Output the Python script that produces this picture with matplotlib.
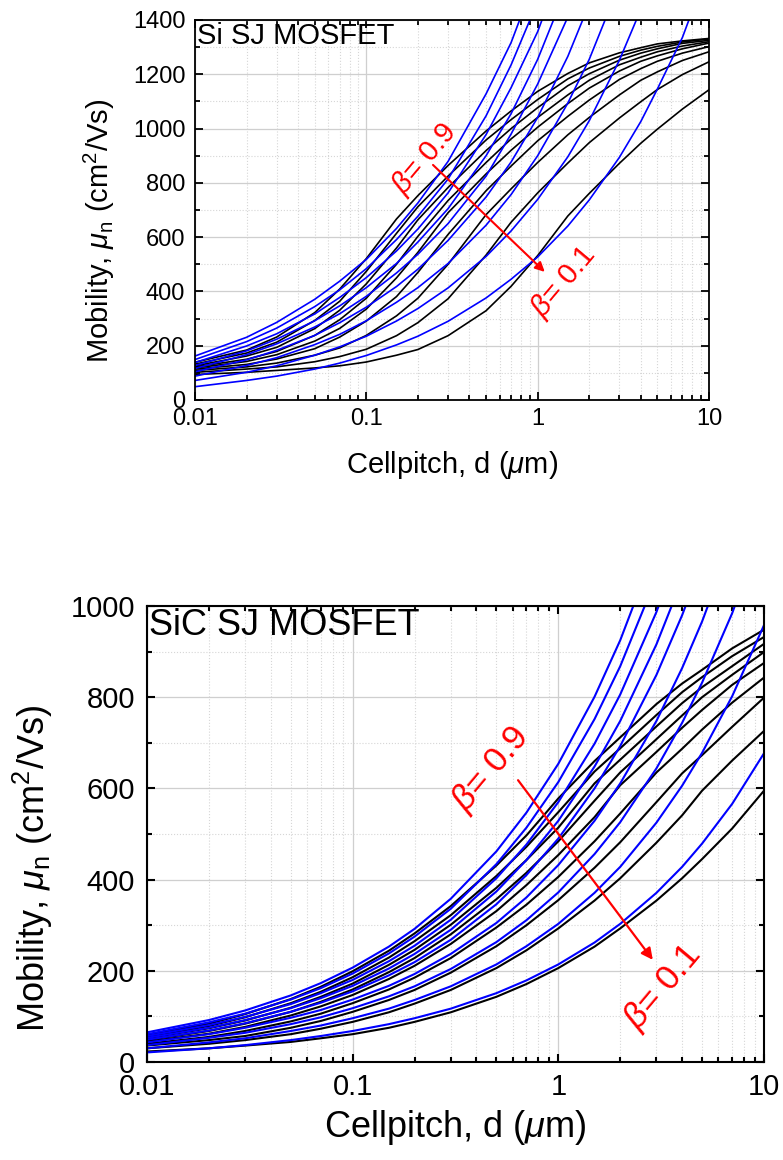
import numpy as np
import matplotlib
matplotlib.use("Agg")
import matplotlib.pyplot as plt
from matplotlib.ticker import MultipleLocator, LogLocator, NullFormatter

plt.rcParams['font.family'] = ['Liberation Sans', 'DejaVu Sans']
plt.rcParams['mathtext.fontset'] = 'custom'
plt.rcParams['mathtext.rm'] = 'Liberation Sans'
plt.rcParams['mathtext.it'] = 'Liberation Sans:italic'

nan = np.nan

# cell pitch samples (um)
d = [0.01, 0.02, 0.03, 0.05, 0.07, 0.1, 0.15, 0.2, 0.3, 0.5, 0.7,
     1, 1.5, 2, 3, 4, 5, 7, 10]
beta = [0.9, 0.8, 0.7, 0.6, 0.5, 0.4, 0.3, 0.2, 0.1]

# Si SJ MOSFET, black curves (one row per beta)
si_black = [
    [139, 184, 232, 322, 409, 521, 667, 753, 864, 991, 1065, 1137, 1203, 1242, 1279, 1298, 1312, 1323, 1332],
    [132, 173, 213, 293, 364, 474, 614, 712, 825, 958, 1033, 1107, 1183, 1223, 1266, 1289, 1303, 1319, 1330],
    [126, 162, 194, 263, 331, 428, 560, 664, 783, 919, 1000, 1077, 1158, 1202, 1252, 1278, 1294, 1314, 1325],
    [122, 150, 179, 238, 296, 375, 500, 603, 735, 875, 962, 1041, 1124, 1178, 1235, 1263, 1283, 1304, 1320],
    [118, 142, 167, 217, 264, 335, 450, 544, 690, 833, 920, 1005, 1092, 1149, 1212, 1248, 1268, 1294, 1315],
    [114, 131, 151, 189, 232, 291, 381, 470, 610, 771, 862, 955, 1045, 1105, 1181, 1221, 1248, 1278, 1302],
    [109, 122, 136, 165, 192, 238, 310, 375, 500, 683, 778, 875, 977, 1041, 1124, 1178, 1209, 1251, 1283],
    [102, 114, 122, 141, 160, 187, 237, 285, 373, 534, 655, 763, 873, 948, 1039, 1099, 1144, 1199, 1246],
    [94, 102, 109, 118, 126, 140, 165, 186, 237, 329, 419, 532, 678, 761, 872, 946, 998, 1072, 1143],
]
# Si SJ MOSFET, blue curves
si_blue = [
    [162, 231, 286, 371, 438, 518, 632, 726, 879, 1128, 1317, 1576, nan, nan, nan, nan, nan, nan, nan],
    [149, 215, 265, 344, 406, 484, 591, 677, 814, 1047, 1235, 1468, nan, nan, nan, nan, nan, nan, nan],
    [138, 199, 244, 317, 378, 451, 549, 630, 763, 978, 1151, 1357, 1657, nan, nan, nan, nan, nan, nan],
    [127, 181, 224, 292, 347, 414, 503, 582, 705, 900, 1055, 1255, 1531, nan, nan, nan, nan, nan, nan],
    [116, 167, 207, 269, 318, 382, 468, 537, 650, 825, 980, 1164, 1411, nan, nan, nan, nan, nan, nan],
    [104, 148, 183, 238, 285, 342, 418, 482, 588, 748, 877, 1041, 1266, 1459, nan, nan, nan, nan, nan],
    [88, 127, 156, 204, 242, 292, 360, 414, 503, 644, 757, 900, 1094, 1255, 1531, nan, nan, nan, nan],
    [72, 102, 126, 165, 196, 235, 291, 337, 413, 529, 623, 739, 896, 1029, 1252, 1439, nan, nan, nan],
    [49, 72, 88, 114, 136, 164, 203, 235, 290, 376, 445, 527, 641, 737, 894, 1026, 1146, 1336, 1600],
]
# SiC SJ MOSFET, black curves
sic_black = [
    [58, 84, 105, 138, 165, 199, 244, 282, 342, 431, 497, 578, 660, 712, 785, 830, 860, 907, 948],
    [55, 79, 98, 129, 154, 186, 229, 265, 322, 408, 472, 548, 637, 688, 761, 811, 844, 890, 932],
    [52, 74, 91, 119, 143, 172, 213, 246, 301, 382, 443, 514, 611, 663, 736, 787, 822, 868, 917],
    [48, 68, 84, 110, 132, 159, 197, 228, 280, 357, 415, 484, 573, 635, 708, 760, 800, 849, 899],
    [45, 62, 77, 102, 122, 147, 182, 211, 259, 331, 388, 454, 537, 607, 680, 733, 772, 827, 875],
    [40, 55, 68, 89, 106, 129, 159, 185, 228, 295, 345, 406, 484, 545, 635, 687, 729, 788, 843],
    [36, 48, 57, 75, 90, 110, 136, 158, 196, 254, 300, 355, 426, 482, 570, 633, 673, 735, 799],
    [30, 40, 48, 61, 73, 88, 109, 128, 158, 206, 245, 293, 354, 403, 481, 541, 595, 661, 726],
    [23, 30, 36, 44, 52, 61, 75, 88, 109, 143, 171, 206, 253, 293, 354, 403, 445, 512, 595],
]
# SiC SJ MOSFET, blue curves
sic_blue = [
    [65, 92, 113, 146, 173, 207, 253, 292, 358, 462, 547, 654, 801, 925, 1133, nan, nan, nan, nan],
    [61, 87, 106, 137, 162, 194, 238, 275, 336, 434, 514, 614, 752, 868, 1063, nan, nan, nan, nan],
    [57, 81, 99, 127, 151, 180, 221, 255, 312, 403, 477, 570, 698, 806, 987, 1140, nan, nan, nan],
    [53, 75, 92, 118, 140, 167, 205, 237, 290, 374, 443, 529, 648, 748, 916, 1058, nan, nan, nan],
    [49, 69, 85, 110, 130, 155, 190, 219, 268, 346, 410, 490, 600, 693, 849, 980, 1096, nan, nan],
    [43, 61, 75, 97, 114, 137, 167, 193, 237, 305, 361, 432, 529, 611, 748, 864, 966, 1143, nan],
    [37, 53, 64, 83, 98, 118, 144, 166, 204, 263, 311, 372, 456, 526, 644, 744, 832, 984, 1176],
    [30, 43, 52, 68, 80, 96, 117, 136, 166, 214, 254, 303, 371, 428, 525, 606, 678, 802, 958],
    [21, 30, 37, 48, 57, 68, 83, 96, 117, 151, 179, 214, 262, 303, 371, 428, 479, 566, 677],
]

xtick_vals = [0.01, 0.1, 1, 10]
xtick_labels = ['0.01', '0.1', '1', '10']


def style_axes(ax, ymax, fs_tick, lw_spine, xpad, ypad):
    ax.set_xscale('log')
    ax.set_xlim(0.01, 10)
    ax.set_ylim(0, ymax)
    ax.set_xticks(xtick_vals)
    ax.set_xticklabels(xtick_labels)
    ax.xaxis.set_minor_locator(LogLocator(base=10, subs=np.arange(2, 10)))
    ax.xaxis.set_minor_formatter(NullFormatter())
    ax.yaxis.set_major_locator(MultipleLocator(200))
    ax.yaxis.set_minor_locator(MultipleLocator(100))
    ax.grid(which='major', color='#cfcfcf', lw=0.9, ls='-')
    ax.grid(which='minor', color='#d6d6d6', lw=0.8, ls=':')
    ax.set_axisbelow(True)
    ax.tick_params(which='both', direction='in', top=True, right=True,
                   labelsize=fs_tick, width=lw_spine)
    ax.tick_params(axis='x', which='both', pad=xpad)
    ax.tick_params(axis='y', which='both', pad=ypad)
    ax.tick_params(which='major', length=6)
    ax.tick_params(which='minor', length=3.5)
    for s in ax.spines.values():
        s.set_linewidth(lw_spine)


fig = plt.figure(figsize=(7.83, 11.6), dpi=100)

# ---- top: Si ----
ax1 = fig.add_axes([195 / 783, 1 - 400 / 1160, 514 / 783, 380 / 1160])
style_axes(ax1, 1400, 17, 1.3, 6, 7)
for row in si_black:
    ax1.plot(d, row, color='black', lw=1.2)
for row in si_blue:
    ax1.plot(d, row, color='#0000ff', lw=1.2)
ax1.text(0.004, 0.995, 'Si SJ MOSFET', transform=ax1.transAxes,
         ha='left', va='top', fontsize=21)
ax1.set_xlabel(r'Cellpitch, d ($\mu$m)', fontsize=21)
ax1.set_ylabel(r'Mobility, $\mu_{\mathrm{n}}$ (cm$^2$/Vs)', fontsize=21)
ax1.xaxis.set_label_coords(0.5, -0.128)
ax1.yaxis.set_label_coords(-0.152, 0.445)
ax1.annotate('', xy=(1.10, 472), xytext=(0.245, 866),
             arrowprops=dict(arrowstyle='-|>', color='red', lw=1.5,
                             mutation_scale=14, shrinkA=0, shrinkB=0))
ax1.text(0.220, 888, r'$\beta$= 0.9', color='red', fontsize=21,
         rotation=50, ha='center', va='center', rotation_mode='anchor')
ax1.text(1.426, 435, r'$\beta$= 0.1', color='red', fontsize=21,
         rotation=50, ha='center', va='center', rotation_mode='anchor')

# ---- bottom: SiC ----
ax2 = fig.add_axes([147 / 783, 1 - 1062 / 1160, 617 / 783, 456 / 1160])
style_axes(ax2, 1000, 21, 1.5, 8, 8.5)
for row in sic_black:
    ax2.plot(d, row, color='black', lw=1.5)
for row in sic_blue:
    ax2.plot(d, row, color='#0000ff', lw=1.5)
ax2.text(0.004, 0.995, 'SiC SJ MOSFET', transform=ax2.transAxes,
         ha='left', va='top', fontsize=26)
ax2.set_xlabel(r'Cellpitch, d ($\mu$m)', fontsize=26)
ax2.set_ylabel(r'Mobility, $\mu_{\mathrm{n}}$ (cm$^2$/Vs)', fontsize=26)
ax2.xaxis.set_label_coords(0.5, -0.1)
ax2.yaxis.set_label_coords(-0.149, 0.425)
ax2.annotate('', xy=(2.88, 224), xytext=(0.637, 618),
             arrowprops=dict(arrowstyle='-|>', color='red', lw=1.6,
                             mutation_scale=17, shrinkA=0, shrinkB=0))
ax2.text(0.47, 643, r'$\beta$= 0.9', color='red', fontsize=25,
         rotation=50, ha='center', va='center', rotation_mode='anchor')
ax2.text(3.23, 164, r'$\beta$= 0.1', color='red', fontsize=25,
         rotation=50, ha='center', va='center', rotation_mode='anchor')

fig.savefig('out.png', dpi=100)
